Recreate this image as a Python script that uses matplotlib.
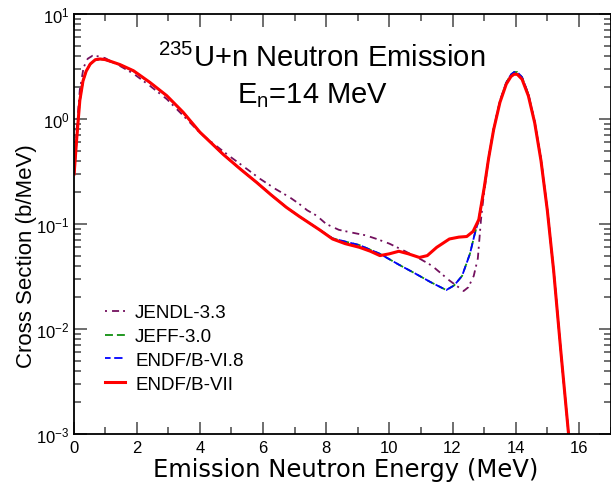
import numpy as np
import matplotlib
matplotlib.use("Agg")
import matplotlib.pyplot as plt
from matplotlib.ticker import MultipleLocator, LogLocator

plt.rcParams['font.family'] = ['Liberation Sans', 'DejaVu Sans']
plt.rcParams['mathtext.fontset'] = 'custom'
plt.rcParams['mathtext.rm'] = 'Liberation Sans'
plt.rcParams['mathtext.it'] = 'Liberation Sans'
plt.rcParams['mathtext.bf'] = 'Liberation Sans:bold'

# ENDF/B-VII emission spectrum (MeV, b/MeV)
e_b7 = [0.02, 0.1, 0.2, 0.3, 0.4, 0.53, 0.69, 0.84, 1.0, 1.2, 1.47, 1.9, 2.42,
        2.95, 3.47, 4.0, 4.74, 5.3, 5.79, 6.25, 6.74, 7.15, 7.79, 8.2, 8.6,
        9.05, 9.4, 9.7, 10.0, 10.3, 10.6, 10.95, 11.2, 11.5, 11.9, 12.2, 12.45,
        12.65, 12.83, 13.0, 13.14, 13.3, 13.5, 13.7, 13.85, 13.95, 14.05, 14.2,
        14.4, 14.6, 14.8, 15.0, 15.2, 15.42, 15.72]
s_b7 = [0.30, 0.64, 1.5, 2.3, 2.85, 3.34, 3.67, 3.73, 3.68, 3.52, 3.3, 2.88, 2.23,
        1.67, 1.16, 0.75, 0.46, 0.33, 0.25, 0.19, 0.144, 0.118, 0.088, 0.072, 0.065,
        0.06, 0.055, 0.05, 0.052, 0.055, 0.052, 0.048, 0.05, 0.06, 0.072, 0.075, 0.076,
        0.085, 0.11, 0.22, 0.42, 0.79, 1.44, 2.15, 2.54, 2.67, 2.66, 2.39,
        1.66, 0.92, 0.40, 0.135, 0.036, 0.0065, 0.0007]

# ENDF/B-VI.8 (JEFF-3.0 takes the same evaluation)
e_b6 = [0.02, 0.1, 0.2, 0.3, 0.4, 0.53, 0.69, 0.84, 1.0, 1.2, 1.47, 1.9, 2.42,
        2.95, 3.47, 4.0, 4.74, 5.3, 5.79, 6.25, 6.74, 7.15, 7.79, 8.2, 8.6,
        9.05, 9.7, 10.3, 10.8, 11.3, 11.8, 12.05, 12.3, 12.55, 12.7, 12.83, 13.0,
        13.14, 13.3, 13.5, 13.7, 13.85, 13.95, 14.05, 14.2, 14.4, 14.6, 14.8,
        15.0, 15.2, 15.42, 15.72]
s_b6 = [0.30, 0.64, 1.5, 2.3, 2.85, 3.34, 3.65, 3.72, 3.66, 3.5, 3.28, 2.87, 2.22,
        1.66, 1.16, 0.75, 0.46, 0.33, 0.25, 0.19, 0.144, 0.118, 0.088, 0.073, 0.068,
        0.063, 0.052, 0.041, 0.034, 0.028, 0.0235, 0.026, 0.032, 0.052, 0.08, 0.11, 0.22,
        0.42, 0.8, 1.48, 2.22, 2.65, 2.8, 2.8, 2.5, 1.72, 0.94, 0.41,
        0.137, 0.036, 0.0065, 0.0007]

# JENDL-3.3
e_jendl = [0.02, 0.1, 0.2, 0.32, 0.45, 0.6, 0.8, 1.0, 1.47, 1.9, 2.42, 2.95, 3.47,
           4.0, 4.5, 4.95, 5.4, 5.9, 6.4, 6.84, 7.15, 7.4, 7.7, 8.0, 8.4, 8.8,
           9.25, 9.6, 10.0, 10.5, 11.0, 11.35, 11.9, 12.35, 12.5, 12.67, 12.8,
           12.9, 12.97, 13.14, 13.3, 13.5, 13.7, 13.85, 13.95, 14.05, 14.2, 14.4,
           14.6, 14.8, 15.0, 15.2, 15.42, 15.72]
s_jendl = [0.30, 0.8, 1.9, 3.1, 3.75, 4.0, 3.95, 3.8, 3.2, 2.7, 2.07, 1.55, 1.08,
           0.74, 0.56, 0.44, 0.35, 0.27, 0.215, 0.18, 0.155, 0.135, 0.12, 0.1, 0.088, 0.083,
           0.078, 0.072, 0.065, 0.055, 0.046, 0.04, 0.029, 0.023, 0.025, 0.032, 0.047,
           0.11, 0.17, 0.42, 0.8, 1.46, 2.2, 2.6, 2.74, 2.73, 2.45, 1.7,
           0.93, 0.41, 0.136, 0.036, 0.0065, 0.0007]

fig = plt.figure(figsize=(6.11, 4.85), dpi=100)
ax = fig.add_axes([73.5 / 611, 50 / 485, 537 / 611, 420 / 485])

ax.plot(e_jendl, s_jendl, color='#73105e', lw=1.3, ls=(0, (1.1, 2.8, 3.9, 2.2)), label='JENDL-3.3')
ax.plot(e_b6, s_b6, color='#109010', lw=1.3, ls=(0, (4.4, 2.2)), label='JEFF-3.0')
ax.plot(e_b6, s_b6, color='#0000ff', lw=1.3, ls=(1.5, (4.6, 2.0)), label='ENDF/B-VI.8')
ax.plot(e_b7, s_b7, color='#ff0000', lw=2.2, label='ENDF/B-VII')

ax.set_yscale('log')
ax.set_xlim(0, 17)
ax.set_ylim(1e-3, 10)
ax.xaxis.set_major_locator(MultipleLocator(2))
ax.xaxis.set_minor_locator(MultipleLocator(1))
ax.yaxis.set_major_locator(LogLocator(base=10, numticks=10))
ax.yaxis.set_minor_locator(LogLocator(base=10, subs=np.arange(2, 10), numticks=20))

ax.tick_params(which='both', direction='in', top=True, right=True,
               labelsize=12, color='#555555', width=1.2)
ax.tick_params(axis='x', which='both', pad=4)
ax.tick_params(axis='y', which='both', pad=3)
ax.tick_params(which='major', length=9)
ax.tick_params(which='minor', length=5)
for sp in ax.spines.values():
    sp.set_linewidth(1.3)

ax.set_xlabel('Emission Neutron Energy (MeV)', fontsize=17.5, family='DejaVu Sans')
ax.xaxis.set_label_coords(0.5065, -0.054)
ax.set_ylabel('Cross Section (b/MeV)', fontsize=16)
ax.yaxis.set_label_coords(-0.068, 0.425)

ax.text(0.463, 0.896, r'$^{235}$U+n Neutron Emission', transform=ax.transAxes,
        ha='center', va='center', fontsize=21)
ax.text(0.446, 0.807, r'E$_\mathregular{n}$=14 MeV', transform=ax.transAxes,
        ha='center', va='center', fontsize=21)

ax.legend(loc='upper left', bbox_to_anchor=(0.0447, 0.327), frameon=False,
          fontsize=13.5, handlelength=1.07, handletextpad=0.53, labelspacing=0.36,
          borderaxespad=0)

fig.savefig('out.png', dpi=100)
